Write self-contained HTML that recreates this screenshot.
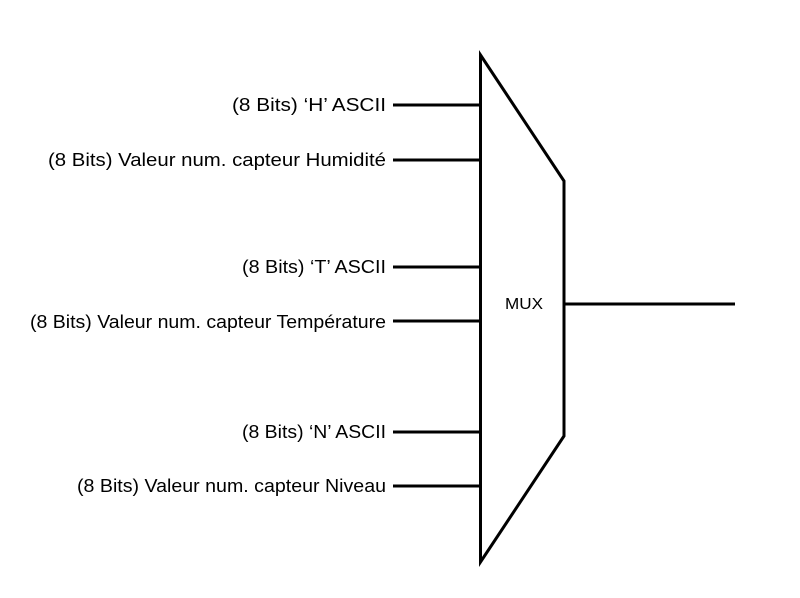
<!DOCTYPE html>
<html><head><style>html,body{margin:0;padding:0;background:#fff}</style></head>
<body>
<svg width="800" height="593" xmlns="http://www.w3.org/2000/svg">
<rect width="800" height="593" fill="#fff"/>
<g stroke="#000" stroke-width="3" fill="none">
<polygon points="480.5,55 564,181 564,436 480.5,562" stroke-linejoin="miter"/>
<line x1="393" y1="105" x2="480" y2="105"/>
<line x1="393" y1="160" x2="480" y2="160"/>
<line x1="393" y1="267" x2="480" y2="267"/>
<line x1="393" y1="321" x2="480" y2="321"/>
<line x1="393" y1="432" x2="480" y2="432"/>
<line x1="393" y1="486" x2="480" y2="486"/>
<line x1="564" y1="304" x2="735" y2="304"/>
</g>
<g font-family="Liberation Sans, Arial, sans-serif" font-size="18" fill="#000" text-anchor="end" lengthAdjust="spacingAndGlyphs">
<text x="386" y="111" textLength="154" lengthAdjust="spacingAndGlyphs">(8 Bits) ‘H’ ASCII</text>
<text x="386" y="166" textLength="338" lengthAdjust="spacingAndGlyphs">(8 Bits) Valeur num. capteur Humidité</text>
<text x="386" y="273" textLength="144" lengthAdjust="spacingAndGlyphs">(8 Bits) ‘T’ ASCII</text>
<text x="386" y="328" textLength="356" lengthAdjust="spacingAndGlyphs">(8 Bits) Valeur num. capteur Température</text>
<text x="386" y="438" textLength="144" lengthAdjust="spacingAndGlyphs">(8 Bits) ‘N’ ASCII</text>
<text x="386" y="492" textLength="309" lengthAdjust="spacingAndGlyphs">(8 Bits) Valeur num. capteur Niveau</text>
</g>
<text x="524" y="309" font-family="Liberation Sans, Arial, sans-serif" font-size="16" text-anchor="middle" textLength="38" lengthAdjust="spacingAndGlyphs">MUX</text>
</svg>
</body></html>
